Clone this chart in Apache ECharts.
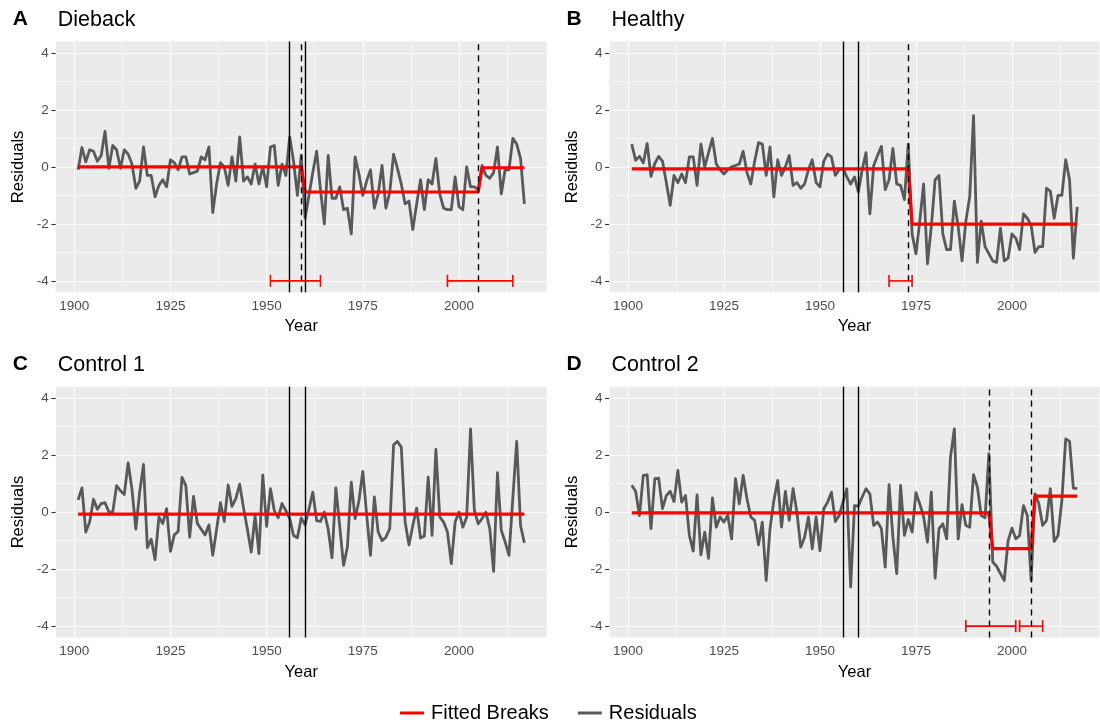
<!DOCTYPE html>
<html><head><meta charset="utf-8">
<script src="https://cdn.jsdelivr.net/npm/echarts@6/dist/echarts.min.js"></script>
<style>html,body{margin:0;padding:0;background:#fff}#c{width:1100px;height:726px}</style>
</head><body><div id="c"></div><script>
// ---------------- DATA ----------------
const years = [
  1901,1902,1903,1904,1905,1906,1907,1908,1909,1910,
  1911,1912,1913,1914,1915,1916,1917,1918,1919,1920,
  1921,1922,1923,1924,1925,1926,1927,1928,1929,1930,
  1931,1932,1933,1934,1935,1936,1937,1938,1939,1940,
  1941,1942,1943,1944,1945,1946,1947,1948,1949,1950,
  1951,1952,1953,1954,1955,1956,1957,1958,1959,1960,
  1961,1962,1963,1964,1965,1966,1967,1968,1969,1970,
  1971,1972,1973,1974,1975,1976,1977,1978,1979,1980,
  1981,1982,1983,1984,1985,1986,1987,1988,1989,1990,
  1991,1992,1993,1994,1995,1996,1997,1998,1999,2000,
  2001,2002,2003,2004,2005,2006,2007,2008,2009,2010,
  2011,2012,2013,2014,2015,2016,2017];

const xTicks = [1900, 1925, 1950, 1975, 2000];
const xMinorTicks = [1912.5, 1937.5, 1962.5, 1987.5, 2012.5];
const yTicks = [-4, -2, 0, 2, 4];
const yMinorTicks = [-3, -1, 1, 3];

const panelTags = ['A', 'B', 'C', 'D'];
const panelTitles = ['Dieback', 'Healthy', 'Control 1', 'Control 2'];

const residDieback = [
  -0.1,0.68,0.18,0.6,0.55,0.2,0.4,1.25,-0.05,0.75,
  0.6,-0.05,0.6,0.45,0.1,-0.75,-0.5,0.7,-0.3,-0.3,
  -1.05,-0.65,-0.45,-0.7,0.25,0.15,-0.1,0.35,0.35,-0.25,
  -0.2,-0.15,0.35,0.25,0.7,-1.6,-0.6,0.15,0.0,-0.65,
  0.35,-0.5,1.05,-0.5,-0.35,-0.6,0.1,-0.6,0.0,-0.7,
  0.7,0.75,-0.65,0.1,-0.3,1.05,0.2,-1.0,0.4,-1.8,
  -1.0,-0.2,0.55,-0.8,-2.0,0.4,-1.1,-1.1,-0.7,-1.5,
  -1.45,-2.35,0.35,-0.25,-1.0,-0.5,-0.1,-1.45,-0.95,0.05,
  -1.45,-0.9,0.45,-0.05,-0.6,-1.3,-1.2,-2.2,-1.3,-0.45,
  -1.5,-0.45,-0.6,0.3,-0.95,-1.45,-1.5,-1.5,-0.35,-1.4,
  -1.5,0.0,-0.7,-0.7,-0.8,0.05,-0.3,-0.4,-0.2,0.7,
  -0.95,-0.1,-0.1,1.0,0.8,0.3,-1.3];

const residHealthy = [
  0.8,0.23,0.37,0.14,0.82,-0.33,0.12,0.37,0.2,-0.55,
  -1.35,-0.3,-0.55,-0.25,-0.55,0.35,0.35,-0.65,0.8,0.0,
  0.5,1.0,0.1,-0.1,-0.25,-0.1,0.0,0.05,0.1,0.55,
  -0.2,-0.6,0.2,0.85,0.8,-0.3,0.7,-1.05,0.25,-0.3,
  0.0,0.4,-0.65,-0.55,-0.75,-0.6,-0.1,0.25,-0.55,-0.7,
  0.2,0.45,0.35,-0.3,-0.1,-0.05,-0.35,-0.6,-0.35,-0.88,
  -0.1,0.5,-1.65,0.05,0.4,0.72,-0.8,-0.45,0.65,-0.6,
  -0.65,-1.15,0.8,-2.35,-3.05,-1.9,-0.6,-3.4,-2.1,-0.45,
  -0.3,-2.35,-2.9,-2.9,-1.2,-2.1,-3.3,-1.9,-1.05,1.8,
  -3.35,-1.9,-2.8,-3.05,-3.3,-3.35,-2.15,-3.3,-3.2,-2.35,
  -2.5,-2.9,-1.65,-1.8,-2.05,-3.0,-2.8,-2.8,-0.75,-0.85,
  -1.8,-1.0,-1.0,0.25,-0.45,-3.2,-1.4];

const residControl1 = [
  0.43,0.85,-0.7,-0.35,0.45,0.1,0.3,0.33,0.0,0.0,
  0.93,0.75,0.62,1.73,0.8,-0.6,0.7,1.67,-1.25,-0.95,
  -1.67,-0.17,-0.4,0.12,-1.38,-0.8,-0.68,1.22,0.93,-0.88,
  0.55,-0.4,-0.6,-0.8,-0.45,-1.52,-0.6,0.33,-0.33,0.95,
  0.2,0.47,0.98,0.14,-0.6,-1.4,-0.12,-1.46,1.3,-0.5,
  0.82,0.05,-0.2,0.3,0.05,-0.23,-0.82,-0.9,-0.2,-0.45,
  0.1,0.7,-0.3,-0.33,0.0,-0.6,-1.6,0.85,-0.5,-1.87,
  -1.23,1.05,-0.23,0.4,1.43,-0.1,-1.52,0.53,-0.7,-1.0,
  -0.88,-0.58,2.36,2.48,2.28,-0.35,-1.15,-0.47,0.14,-0.91,
  -0.84,1.23,-0.82,2.2,-0.17,-0.35,-0.7,-1.81,-0.35,0.0,
  -0.53,-0.18,2.92,0.06,-0.41,-0.23,0.0,-0.58,-2.08,1.38,
  -0.64,-1.05,-1.52,0.5,2.48,-0.47,-1.08];

const residControl2 = [
  0.94,0.73,-0.12,1.29,1.31,-0.58,1.17,1.19,0.12,0.58,
  0.73,0.37,1.46,0.35,0.58,-0.82,-1.37,0.6,-1.5,-0.7,
  -1.62,0.5,-0.53,-0.17,-0.35,-0.12,-0.94,1.17,0.29,1.29,
  0.47,-0.17,-0.29,-1.15,-0.35,-2.4,-0.58,0.41,1.11,-0.53,
  0.73,-0.29,0.82,0.0,-1.23,-0.88,-0.17,-1.29,-0.17,-1.35,
  0.12,0.35,0.7,-0.33,-0.12,0.35,0.82,-2.63,0.23,0.21,
  0.53,0.82,0.64,-0.47,-0.35,-0.58,-1.93,0.96,-0.88,-2.16,
  0.94,-0.82,-0.26,-0.7,0.68,0.29,-0.17,-1.05,0.7,-2.32,
  -0.58,-0.41,-0.94,1.93,2.92,-0.94,0.26,-0.47,-0.53,1.31,
  0.88,-0.12,-0.2,2.05,-1.75,-1.9,-2.16,-2.4,-1.0,-0.56,
  -0.94,-0.82,0.23,-0.12,-2.4,0.64,0.29,-0.47,-0.29,0.82,
  -1.03,-0.82,0.41,2.57,2.48,0.84,0.82];

// fitted break lines: [year, level] vertices
const fitDieback  = [[1901,0],[1959,0],[1960,-0.88],[2005,-0.88],[2006,-0.03],[2017,-0.03]];
const fitHealthy  = [[1901,-0.07],[1973,-0.07],[1974,-2.01],[2017,-2.01]];
const fitControl1 = [[1901,-0.07],[2017,-0.07]];
const fitControl2 = [[1901,-0.03],[1994,-0.03],[1995,-1.28],[2005,-1.28],[2006,0.56],[2017,0.56]];

// reference years (solid) and estimated break years (dashed)
const solidLines = [1956, 1960];
const dashedDieback  = [1959, 2005];
const dashedHealthy  = [1973];
const dashedControl1 = [];
const dashedControl2 = [1994, 2005];

// confidence intervals of breaks [from, to], drawn at level ciLevel
const ciLevel = -4;
const ciDieback  = [[1951,1964],[1997,2014]];
const ciHealthy  = [[1968,1974]];
const ciControl1 = [];
const ciControl2 = [[1988,2001],[2002,2008]];

// ---------------- LAYOUT / STYLE ----------------
const FONT = 'Liberation Sans, Arial, Helvetica, sans-serif';
const grids = [
  {left: 55.8, top: 41.5, width: 490.9, height: 250.8},
  {left: 609.5, top: 41.5, width: 490, height: 250.8},
  {left: 55.8, top: 386.7, width: 490.9, height: 250.8},
  {left: 609.5, top: 386.7, width: 490, height: 250.8}
];
const panels = [
  {resid: residDieback,  fit: fitDieback,  dashed: dashedDieback,  ci: ciDieback},
  {resid: residHealthy,  fit: fitHealthy,  dashed: dashedHealthy,  ci: ciHealthy},
  {resid: residControl1, fit: fitControl1, dashed: dashedControl1, ci: ciControl1},
  {resid: residControl2, fit: fitControl2, dashed: dashedControl2, ci: ciControl2}
];

const option = {
  animation: false,
  backgroundColor: '#ffffff',
  textStyle: {fontFamily: FONT},
  grid: [], xAxis: [], yAxis: [], series: [], title: [],
  legend: {
    data: ['Fitted Breaks', 'Residuals'],
    left: 400, top: 703, padding: 0,
    icon: 'rect', itemWidth: 24, itemHeight: 3, itemGap: 29,
    selectedMode: false,
    textStyle: {fontSize: 20, color: '#000', fontFamily: FONT, padding: [0, 0, 0, 2]}
  }
};

grids.forEach((g, i) => {
  const p = panels[i];
  option.grid.push(Object.assign({show: true, backgroundColor: '#EBEBEB', borderWidth: 0, containLabel: false}, g));
  option.title.push({text: panelTags[i], left: g.left - 43, top: g.top - 32.5, padding: 0,
    textStyle: {fontSize: 21, fontWeight: 'bold', color: '#000', fontFamily: FONT}});
  option.title.push({text: panelTitles[i], left: g.left + 2, top: g.top - 32.5, padding: 0,
    textStyle: {fontSize: 21.5, fontWeight: 'normal', color: '#000', fontFamily: FONT}});
  option.xAxis.push({
    type: 'value', gridIndex: i, min: 1895.2, max: 2022.8,
    name: 'Year', nameLocation: 'middle', nameGap: 26,
    nameTextStyle: {fontSize: 16.5, color: '#000', fontFamily: FONT},
    axisLine: {show: false},
    axisTick: {show: true, length: 4.4, customValues: xTicks, lineStyle: {color: '#333', width: 1.1}},
    axisLabel: {customValues: xTicks, color: '#4D4D4D', fontSize: 13.5, margin: 7, fontFamily: FONT,
      formatter: v => String(v)},
    splitLine: {show: false}
  });
  option.yAxis.push({
    type: 'value', gridIndex: i, min: -4.4, max: 4.4,
    name: 'Residuals', nameLocation: 'middle', nameGap: 29,
    nameTextStyle: {fontSize: 16.5, color: '#000', fontFamily: FONT},
    axisLine: {show: false},
    axisTick: {show: true, length: 4.4, customValues: yTicks, lineStyle: {color: '#333', width: 1.1}},
    axisLabel: {customValues: yTicks, color: '#4D4D4D', fontSize: 13.5, margin: 7, fontFamily: FONT,
      formatter: v => String(v)},
    splitLine: {show: false}
  });
  const residPairs = years.map((y, k) => [y, p.resid[k]]);
  // panel grid lines (beneath data)
  option.series.push({
    type: 'line', xAxisIndex: i, yAxisIndex: i, z: 1, silent: true,
    data: residPairs, symbol: 'none', lineStyle: {opacity: 0}, tooltip: {show: false},
    markLine: {
      z: 1, silent: true, symbol: ['none', 'none'], label: {show: false}, animation: false,
      data: [
        ...xMinorTicks.map(v => ({xAxis: v, lineStyle: {color: '#fff', width: 0.55, type: 'solid'}})),
        ...yMinorTicks.map(v => ({yAxis: v, lineStyle: {color: '#fff', width: 0.55, type: 'solid'}})),
        ...xTicks.map(v => ({xAxis: v, lineStyle: {color: '#fff', width: 1.1, type: 'solid'}})),
        ...yTicks.map(v => ({yAxis: v, lineStyle: {color: '#fff', width: 1.1, type: 'solid'}}))
      ]
    }
  });
  // residuals
  option.series.push({
    name: 'Residuals', type: 'line', xAxisIndex: i, yAxisIndex: i, z: 3,
    data: residPairs, symbol: 'none', showSymbol: false,
    color: '#595959', lineStyle: {color: '#595959', width: 2.8, join: 'round'}
  });
  // fitted breaks + vertical reference lines
  option.series.push({
    name: 'Fitted Breaks', type: 'line', xAxisIndex: i, yAxisIndex: i, z: 4,
    data: p.fit, symbol: 'none', showSymbol: false,
    color: '#FF0000', lineStyle: {color: '#FF0000', width: 3.2},
    markLine: {
      z: 6, silent: true, symbol: ['none', 'none'], label: {show: false}, animation: false,
      data: [
        ...solidLines.map(v => ({xAxis: v, lineStyle: {color: '#000', width: 1.4, type: 'solid'}})),
        ...p.dashed.map(v => ({xAxis: v, lineStyle: {color: '#000', width: 1.4, type: [6, 5]}}))
      ]
    }
  });
  // confidence intervals (horizontal error bars)
  option.series.push({
    type: 'custom', xAxisIndex: i, yAxisIndex: i, z: 7, silent: true,
    data: p.ci.map(c => [c[0], c[1], ciLevel]),
    encode: {x: [0, 1], y: 2},
    renderItem: (params, api) => {
      const s = api.coord([api.value(0), api.value(2)]);
      const e = api.coord([api.value(1), api.value(2)]);
      const h = 6;
      const style = {stroke: '#FF0000', lineWidth: 1.6, fill: null};
      return {type: 'group', children: [
        {type: 'line', shape: {x1: s[0], y1: s[1], x2: e[0], y2: e[1]}, style},
        {type: 'line', shape: {x1: s[0], y1: s[1] - h, x2: s[0], y2: s[1] + h}, style},
        {type: 'line', shape: {x1: e[0], y1: e[1] - h, x2: e[0], y2: e[1] + h}, style}
      ]};
    }
  });
});

const chart = echarts.init(document.getElementById('c'), null, {renderer: 'canvas'});
chart.setOption(option);
</script></body></html>
